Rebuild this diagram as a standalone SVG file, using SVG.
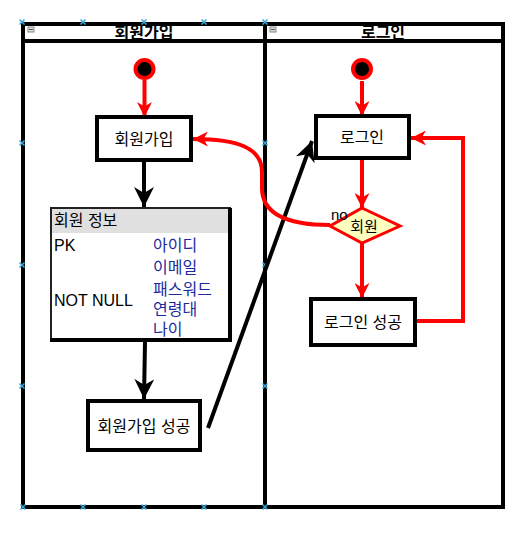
<svg xmlns="http://www.w3.org/2000/svg" width="525" height="533" viewBox="0 0 525 533">
<style>
text{font-family:"Liberation Sans","Noto Sans CJK KR",sans-serif;font-size:16px;fill:#000}
.c{text-anchor:middle}
.hd{font-weight:bold;font-size:16px}
.box{fill:#fff;stroke:#000;stroke-width:4}
.lane{fill:none;stroke:#000;stroke-width:4}
.red{fill:none;stroke:#f00;stroke-width:4}
.blk{fill:none;stroke:#000;stroke-width:4}
.mk{stroke:#3aa6d8;stroke-width:1.5}
.blue{fill:#1a2a9a}
</style>
<defs>
<marker id="ar" viewBox="0 0 10 10" refX="10" refY="5" markerWidth="15" markerHeight="15" markerUnits="userSpaceOnUse" orient="auto">
<path d="M0,0 L10,5 L0,10 L3,5 z" fill="#f00"/>
</marker>
<marker id="ab" viewBox="0 0 10 10" refX="10" refY="5" markerWidth="20" markerHeight="20" markerUnits="userSpaceOnUse" orient="auto">
<path d="M0,0 L10,5 L0,10 L3,5 z" fill="#000"/>
</marker>
<g id="x"><path class="mk" d="M-2.5,-2.5 L2.5,2.5 M-2.5,2.5 L2.5,-2.5"/></g>
</defs>

<g id="lanes">
<rect class="lane" x="23" y="24" width="480" height="483"/>
<line class="lane" x1="265" y1="24" x2="265" y2="507"/>
<line class="lane" x1="23" y1="41" x2="503" y2="41"/>
<rect x="28" y="27" width="6" height="5" fill="#ddd" stroke="#888" stroke-width="1"/>
<line x1="29" y1="29.5" x2="33" y2="29.5" stroke="#555" stroke-width="1"/>
<rect x="270" y="27" width="6" height="5" fill="#ddd" stroke="#888" stroke-width="1"/>
<line x1="271" y1="29.5" x2="275" y2="29.5" stroke="#555" stroke-width="1"/>
<text class="c hd" x="144" y="38">회원가입</text>
<text class="c hd" x="383" y="38">로그인</text>
</g>

<g id="markers">
<use href="#x" x="22" y="22"/><use href="#x" x="83" y="22"/><use href="#x" x="144" y="22"/><use href="#x" x="204" y="22"/><use href="#x" x="265" y="22"/>
<use href="#x" x="23" y="507"/><use href="#x" x="83" y="507"/><use href="#x" x="144" y="507"/><use href="#x" x="204" y="507"/><use href="#x" x="265" y="507"/>
<use href="#x" x="22" y="143"/><use href="#x" x="22" y="265"/><use href="#x" x="22" y="386"/>
<use href="#x" x="265" y="143"/><use href="#x" x="265" y="265"/><use href="#x" x="265" y="386"/>
</g>

<g id="connectors">
<line class="red" x1="144.5" y1="80" x2="144.5" y2="117" marker-end="url(#ar)"/>
<line class="red" x1="362" y1="81" x2="362" y2="116" marker-end="url(#ar)"/>
<line class="blk" x1="144" y1="162" x2="144" y2="207" marker-end="url(#ab)"/>
<line class="blk" x1="145" y1="342" x2="144" y2="399" marker-end="url(#ab)"/>
<line class="blk" x1="208" y1="428" x2="312" y2="141" marker-end="url(#ab)"/>
<line class="red" x1="362" y1="160" x2="362" y2="208" marker-end="url(#ar)"/>
<line class="red" x1="362" y1="243" x2="362" y2="298" marker-end="url(#ar)"/>
<path class="red" d="M417,321 L463,321 L463,138 L411,138" marker-end="url(#ar)"/>
<path class="red" d="M330,225 C283,225 262,212 262,188 L262,172 C262,148 238,139 193,139" marker-end="url(#ar)"/>
</g>

<g id="start1"><circle cx="144.5" cy="69" r="9" fill="#000" stroke="#f00" stroke-width="4"/></g>
<g id="start2"><circle cx="362" cy="69" r="9" fill="#000" stroke="#f00" stroke-width="4"/></g>

<g id="join">
<rect class="box" x="97" y="117" width="94" height="43"/>
<text class="c" x="144" y="145">회원가입</text>
</g>

<g id="info">
<rect x="51" y="208" width="179" height="132" fill="#fff" stroke="#222" stroke-width="2"/>
<rect x="52" y="209" width="177" height="24" fill="#e0e0e0"/>
<line x1="230" y1="208" x2="230" y2="342" stroke="#000" stroke-width="4"/>
<line x1="50" y1="340" x2="232" y2="340" stroke="#000" stroke-width="4"/>
<text x="54" y="226">회원 정보</text>
<text x="54" y="251">PK</text>
<text x="54" y="306">NOT NULL</text>
<text class="blue" x="153" y="251">아이디</text>
<text class="blue" x="153" y="273">이메일</text>
<text class="blue" x="153" y="295">패스워드</text>
<text class="blue" x="153" y="315">연령대</text>
<text class="blue" x="153" y="335">나이</text>
</g>

<g id="joinok">
<rect class="box" x="88" y="401" width="112" height="49"/>
<text class="c" x="144" y="432">회원가입 성공</text>
</g>

<g id="login">
<rect class="box" x="316" y="116" width="93" height="42"/>
<text class="c" x="362" y="143">로그인</text>
</g>

<g id="decision">
<polygon points="362,208 400,226 362,243 330,226" fill="#ffffc0" stroke="#f00" stroke-width="3"/>
<text class="c" x="364" y="232" style="font-size:15px">회원</text>
<text x="331" y="220" style="font-size:15px">no</text>
</g>

<g id="loginok">
<rect class="box" x="311" y="299" width="104" height="46"/>
<text class="c" x="363" y="328">로그인 성공</text>
</g>
</svg>
